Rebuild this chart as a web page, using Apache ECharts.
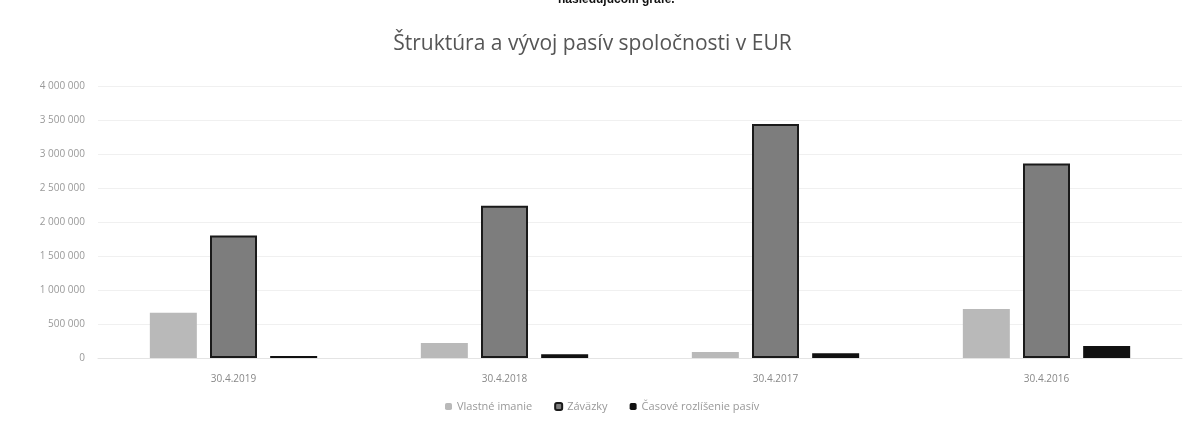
<!DOCTYPE html>
<html>
<head>
<meta charset="utf-8">
<script src="https://cdn.jsdelivr.net/npm/echarts@6/dist/echarts.min.js"></script>
<style>
  html, body { margin: 0; padding: 0; background: #fff; }
  #chart { width: 1185px; height: 425px; }
</style>
</head>
<body>
<div id="chart"></div>
<script>
// dates of the balance sheet
var categories = ['30.4.2019', '30.4.2018', '30.4.2017', '30.4.2016'];
var legendNames = ['Vlastné imanie', 'Záväzky', 'Časové rozlíšenie pasív'];

// values in EUR
var vlastneImanie = [665000, 220000, 90000, 720000];
var zavazky = [1800000, 2240000, 3440000, 2860000];
var casoveRozlisenie = [30000, 55000, 70000, 175000];

var chart = echarts.init(document.getElementById('chart'));

function fmt(v) {
    return String(v).replace(/\B(?=(\d{3})+(?!\d))/g, ' ');
}

var option = {
    backgroundColor: '#fff',
    animation: false,
    textStyle: { fontFamily: 'Open Sans' },
    title: {
        text: 'Štruktúra a vývoj pasív spoločnosti v EUR',
        left: 'center',
        top: 29,
        textStyle: { fontSize: 21, fontWeight: 'normal', color: '#555', fontFamily: 'Open Sans' }
    },
    graphic: [{
        type: 'text',
        left: 558,
        top: -6,
        style: { text: 'nasledujúcom grafe.', fontSize: 12, fontWeight: 'bold', fill: '#111', fontFamily: 'Liberation Sans' }
    }],
    legend: {
        data: legendNames,
        bottom: 8,
        left: 440,
        itemWidth: 7,
        itemHeight: 7,
        itemGap: 22,
        textStyle: { fontSize: 11, color: '#999' }
    },
    grid: { left: 98, right: 3, top: 86, bottom: 67, containLabel: false },
    xAxis: {
        type: 'category',
        data: categories,
        axisLine: { show: true, lineStyle: { color: '#e4e4e4' } },
        axisTick: { show: false },
        axisLabel: { fontSize: 10, color: '#888', margin: 16 }
    },
    yAxis: {
        type: 'value',
        min: 0,
        max: 4000000,
        interval: 500000,
        axisLine: { show: false },
        axisTick: { show: false },
        axisLabel: { fontSize: 10, color: '#999', margin: 13, formatter: fmt },
        splitLine: { lineStyle: { color: '#f0f0f0' } }
    },
    series: [{
        name: legendNames[0],
        type: 'bar',
        data: vlastneImanie,
        barWidth: 47,
        barGap: '28%',
        itemStyle: { color: '#b9b9b9' }
    }, {
        name: legendNames[1],
        type: 'bar',
        data: zavazky,
        barWidth: 47,
        itemStyle: { color: '#7d7d7d', borderColor: '#1a1a1a', borderWidth: 2 }
    }, {
        name: legendNames[2],
        type: 'bar',
        data: casoveRozlisenie,
        barWidth: 47,
        itemStyle: { color: '#111' }
    }]
};

chart.setOption(option);
</script>
</body>
</html>
